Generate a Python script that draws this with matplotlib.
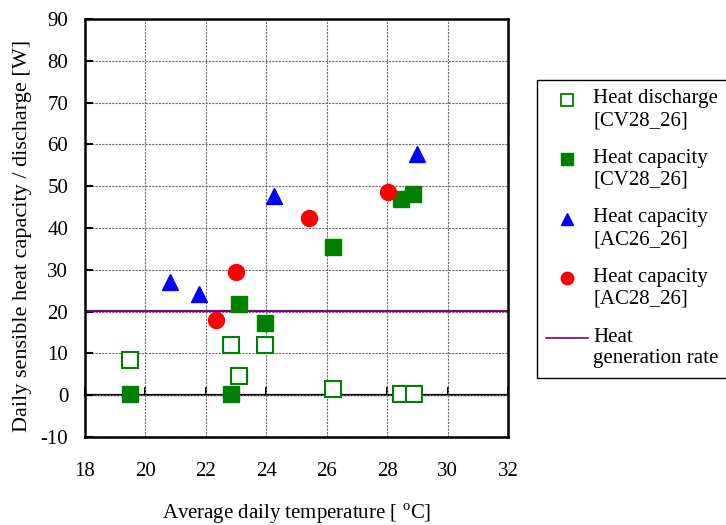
import matplotlib
matplotlib.use("Agg")
import matplotlib.pyplot as plt
from matplotlib.lines import Line2D
from matplotlib.legend_handler import HandlerLine2D

plt.rcParams['font.family'] = ['Liberation Serif', 'DejaVu Serif']
plt.rcParams['mathtext.fontset'] = 'custom'
plt.rcParams['mathtext.rm'] = 'Liberation Serif'
plt.rcParams['axes.unicode_minus'] = False
plt.rcParams['font.size'] = 15

# Heat discharge [CV28_26]
dis_cv_t = [19.5, 22.83, 23.95, 23.1, 26.22, 28.45, 28.89]
dis_cv_w = [8.4, 12.1, 12.1, 4.5, 1.5, 0.2, 0.2]
# Heat capacity [CV28_26]
cap_cv_t = [19.5, 22.83, 23.1, 23.95, 26.22, 28.45, 28.87]
cap_cv_w = [0.2, 0.2, 21.8, 17.2, 35.5, 47.0, 48.2]
# Heat capacity [AC26_26]
cap_ac26_t = [20.83, 21.78, 24.27, 28.98]
cap_ac26_w = [27.1, 24.2, 47.6, 57.8]
# Heat capacity [AC28_26]
cap_ac28_t = [22.35, 22.99, 25.43, 28.02]
cap_ac28_w = [17.9, 29.5, 42.4, 48.6]
# Heat generation rate
gen_rate = 20.2

labels = ["Heat discharge\n[CV28_26]", "Heat capacity\n[CV28_26]",
          "Heat capacity\n[AC26_26]", "Heat capacity\n[AC28_26]",
          "Heat\ngeneration rate"]


class TopLineHandler(HandlerLine2D):
    # put the legend symbol next to the first line of a two-line label
    def create_artists(self, legend, orig_handle, xdescent, ydescent,
                       width, height, fontsize, trans):
        shift = 0.95 * fontsize
        return super().create_artists(legend, orig_handle, xdescent, ydescent - shift,
                                      width, height, fontsize, trans)


fig = plt.figure(figsize=(7.26, 5.25), dpi=100)
ax = fig.add_axes([0.117, 0.1676, 0.5827, 0.7962])

ax.set_xlim(18, 32)
ax.set_ylim(-10, 90)
ax.set_xticks(range(18, 33, 2))
ax.set_yticks(range(-10, 91, 10))
ax.grid(True, color='#6e6e6e', linestyle=(0, (2, 1)), linewidth=0.8)
ax.set_axisbelow(True)
for s in ax.spines.values():
    s.set_linewidth(1.8)
ax.tick_params(axis='y', direction='in', length=6, width=1.5, pad=12)
ax.tick_params(axis='x', length=0, pad=18)

# zero line carrying the x ticks
sec = ax.secondary_xaxis(0.1)
sec.set_xticks(range(18, 33, 2))
sec.tick_params(direction='in', length=6, width=1.5, labelbottom=False)
sec.spines['bottom'].set_linewidth(1.6)

ax.axhline(gen_rate, color='#800080', linewidth=1.5, zorder=2)
ax.plot(dis_cv_t, dis_cv_w, 's', markersize=11, markerfacecolor='white',
        markeredgecolor='#008000', markeredgewidth=1.5, zorder=3)
ax.plot(cap_cv_t, cap_cv_w, 's', markersize=11, color='#008000', zorder=3)
ax.plot(cap_ac26_t, cap_ac26_w, '^', markersize=12, color='#0000ff', zorder=3)
ax.plot(cap_ac28_t, cap_ac28_w, 'o', markersize=11.5, color='#ff0000', zorder=3)

ax.set_xlabel("Average daily temperature [ $^{\\mathrm{o}}$C]", fontsize=15, labelpad=15)
ax.set_ylabel("Daily sensible heat capacity / discharge [W]", fontsize=16)
ax.yaxis.set_label_coords(-0.126, 0.481)

handles = [
    Line2D([], [], marker='s', linestyle='none', markersize=8, markerfacecolor='white',
           markeredgecolor='#008000', markeredgewidth=1.3),
    Line2D([], [], marker='s', linestyle='none', markersize=8, color='#008000'),
    Line2D([], [], marker='^', linestyle='none', markersize=9, color='#0000ff'),
    Line2D([], [], marker='o', linestyle='none', markersize=9, color='#ff0000'),
    Line2D([], [], color='#800080', linewidth=1.2),
]
leg = fig.legend(handles, labels, loc='upper left', bbox_to_anchor=(0.7397, 0.8476),
                 borderaxespad=0, fancybox=False, framealpha=1, edgecolor='black',
                 fontsize=15, handlelength=2.0, handletextpad=0.25, labelspacing=0.9,
                 borderpad=0.45, handler_map={Line2D: TopLineHandler()})
leg.get_frame().set_linewidth(1.0)

fig.savefig("out.png", dpi=100)
